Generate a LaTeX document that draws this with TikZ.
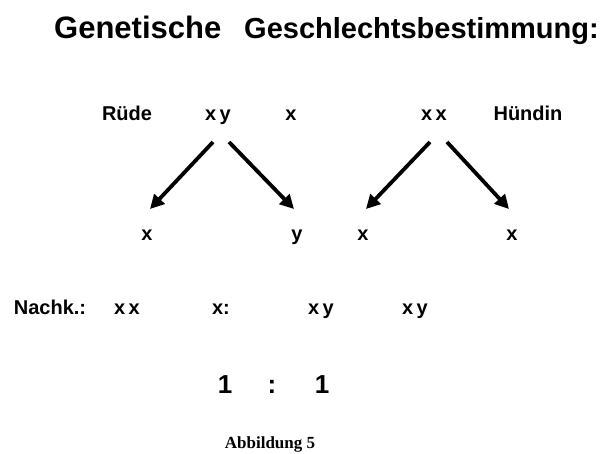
\documentclass[tikz,border=0pt]{standalone}
\usepackage{fontspec}
\setmainfont{Liberation Sans}
\newfontfamily\capfont{Liberation Serif}
\usetikzlibrary{arrows.meta}
\begin{document}
\begin{tikzpicture}[x=1pt,y=-1pt,
  lbl/.style={inner sep=0pt,anchor=base,font=\fontsize{20}{24}\selectfont\bfseries},
  big/.style={inner sep=0pt,anchor=base,font=\fontsize{26}{30}\selectfont\bfseries},
  arr/.style={line width=3.8pt,-{Triangle[length=14pt,width=14pt]}}]
\useasboundingbox (0,0) rectangle (601,453);
\node[inner sep=0pt,anchor=base west,font=\fontsize{31}{36}\selectfont\bfseries] (t1) at (54,38) {Genetische};
\node[inner sep=0pt,anchor=base west,font=\fontsize{29}{34}\selectfont\bfseries] (t2) at (244,38) {Geschlechtsbestimmung:};
\node[lbl] (rude) at (127,120) {Rüde};
\node[lbl] (pxy) at (218,120) {x\,y};
\node[lbl] (cross) at (291,120) {x};
\node[lbl] (pxx) at (434,120) {x\,x};
\node[lbl] (hund) at (528,120) {Hündin};
\node[lbl] (g1) at (147,240) {x};
\node[lbl] (g2) at (297,240) {y};
\node[lbl] (g3) at (363,240) {x};
\node[lbl] (g4) at (512,240) {x};
\coordinate (a1s) at (213,142); \coordinate (a1e) at (150,209);
\coordinate (a2s) at (229,142); \coordinate (a2e) at (294,209);
\coordinate (a3s) at (430,142); \coordinate (a3e) at (366,209);
\coordinate (a4s) at (447,142); \coordinate (a4e) at (509,209);
\draw[arr] (a1s) -- (a1e);
\draw[arr] (a2s) -- (a2e);
\draw[arr] (a3s) -- (a3e);
\draw[arr] (a4s) -- (a4e);
\node[lbl] (nk) at (50,314) {Nachk.:};
\node[lbl] (n1) at (127,314) {x\,x};
\node[lbl] (n2) at (221,314) {x:};
\node[lbl] (n3) at (321,314) {x\,y};
\node[lbl] (n4) at (415,314) {x\,y};
\node[big] (r1) at (225,393) {1};
\node[big] (rc) at (272,393) {:};
\node[big] (r2) at (322,393) {1};
\node[inner sep=0pt,anchor=base,font=\capfont\fontsize{17}{20}\selectfont\bfseries] (cap) at (270,448) {Abbildung 5};
\end{tikzpicture}
\end{document}
